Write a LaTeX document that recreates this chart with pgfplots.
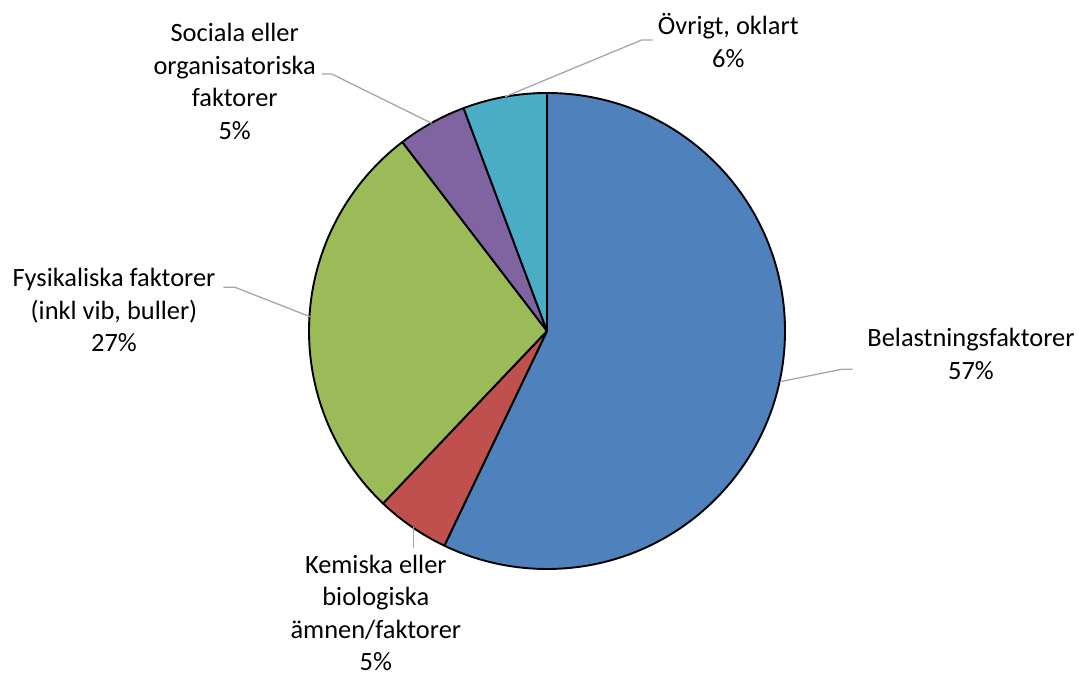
\documentclass[border=0pt]{standalone}
\usepackage{pgfplots}
\usepackage{pgfplotstable}
\pgfplotsset{compat=1.18}
\usepackage{fontspec}
\setmainfont{Carlito}
\definecolor{cBlue}{HTML}{4F81BD}
\definecolor{cRed}{HTML}{C0504D}
\definecolor{cGreen}{HTML}{9BBB59}
\definecolor{cPurple}{HTML}{8064A2}
\definecolor{cAqua}{HTML}{4BACC6}
\definecolor{cLead}{HTML}{A6A6A6}

% share of each category (percent), clockwise from 12 o'clock
\pgfplotstableread{
value color
57.1 cBlue
5.0  cRed
27.5 cGreen
4.7  cPurple
5.7  cAqua
}\pietable

\newcommand\cx{547}
\newcommand\cy{342}
\newcommand\rr{238}
\newcommand\slice[3]{%
  \pgfmathsetmacro\aA{90-3.6*#1}%
  \pgfmathsetmacro\aB{90-3.6*#2}%
  \pgfmathsetmacro\px{\cx+\rr*cos(\aA)}%
  \pgfmathsetmacro\py{\cy+\rr*sin(\aA)}%
  \filldraw[fill=#3,draw=black,line width=0.95pt,line join=round]
    (axis cs:\cx,\cy) -- (axis cs:\px,\py)
    arc[start angle=\aA,end angle=\aB,radius=119pt] -- cycle;}
\newcommand\lab[3]{%
  \node[anchor=base,inner sep=0pt,font=\fontsize{13.2}{16.25}\selectfont] at (axis cs:#1,#2)
    {\begin{tabular}[t]{@{}c@{}}#3\end{tabular}};}

\begin{document}
\begin{tikzpicture}
\begin{axis}[
  x=0.5pt, y=0.5pt,
  xmin=0, xmax=1079, ymin=0, ymax=673,
  hide axis, clip=false, scale only axis,
]
\path (axis cs:0,0) rectangle (axis cs:1079,673);
\pgfplotsextra{%
  \xdef\cum{0}%
  \foreach \i in {0,...,4}{%
    \pgfplotstablegetelem{\i}{value}\of\pietable \let\v\pgfplotsretval
    \pgfplotstablegetelem{\i}{color}\of\pietable \let\c\pgfplotsretval
    \pgfmathsetmacro\nx{\cum+\v}%
    \slice{\cum}{\nx}{\c}%
    \xdef\cum{\nx}%
  }%
}
% leader lines
\draw[cLead,line width=0.65pt] (axis cs:505,576.3) -- (axis cs:641.7,633) -- (axis cs:652.7,633);
\draw[cLead,line width=0.65pt] (axis cs:431.7,549.7) -- (axis cs:331.7,599) -- (axis cs:321.7,599);
\draw[cLead,line width=0.65pt] (axis cs:310,356.3) -- (axis cs:235,385.7) -- (axis cs:223.3,385.7);
\draw[cLead,line width=0.65pt] (axis cs:780,291.3) -- (axis cs:841.7,303.7) -- (axis cs:852.7,303.7);
\draw[cLead,line width=0.65pt] (axis cs:413.3,146.3) -- (axis cs:413.3,124.7);
% labels
\lab{728.3}{638}{Övrigt, oklart\\6\%}
\lab{234.7}{631.3}{Sociala eller\\organisatoriska\\faktorer\\5\%}
\lab{114}{386.3}{Fysikaliska faktorer\\(inkl vib, buller)\\27\%}
\lab{971}{326.3}{Belastningsfaktorer\\57\%}
\lab{375.8}{99.7}{Kemiska eller\\biologiska\\ämnen/faktorer\\5\%}
\end{axis}
\end{tikzpicture}
\end{document}
